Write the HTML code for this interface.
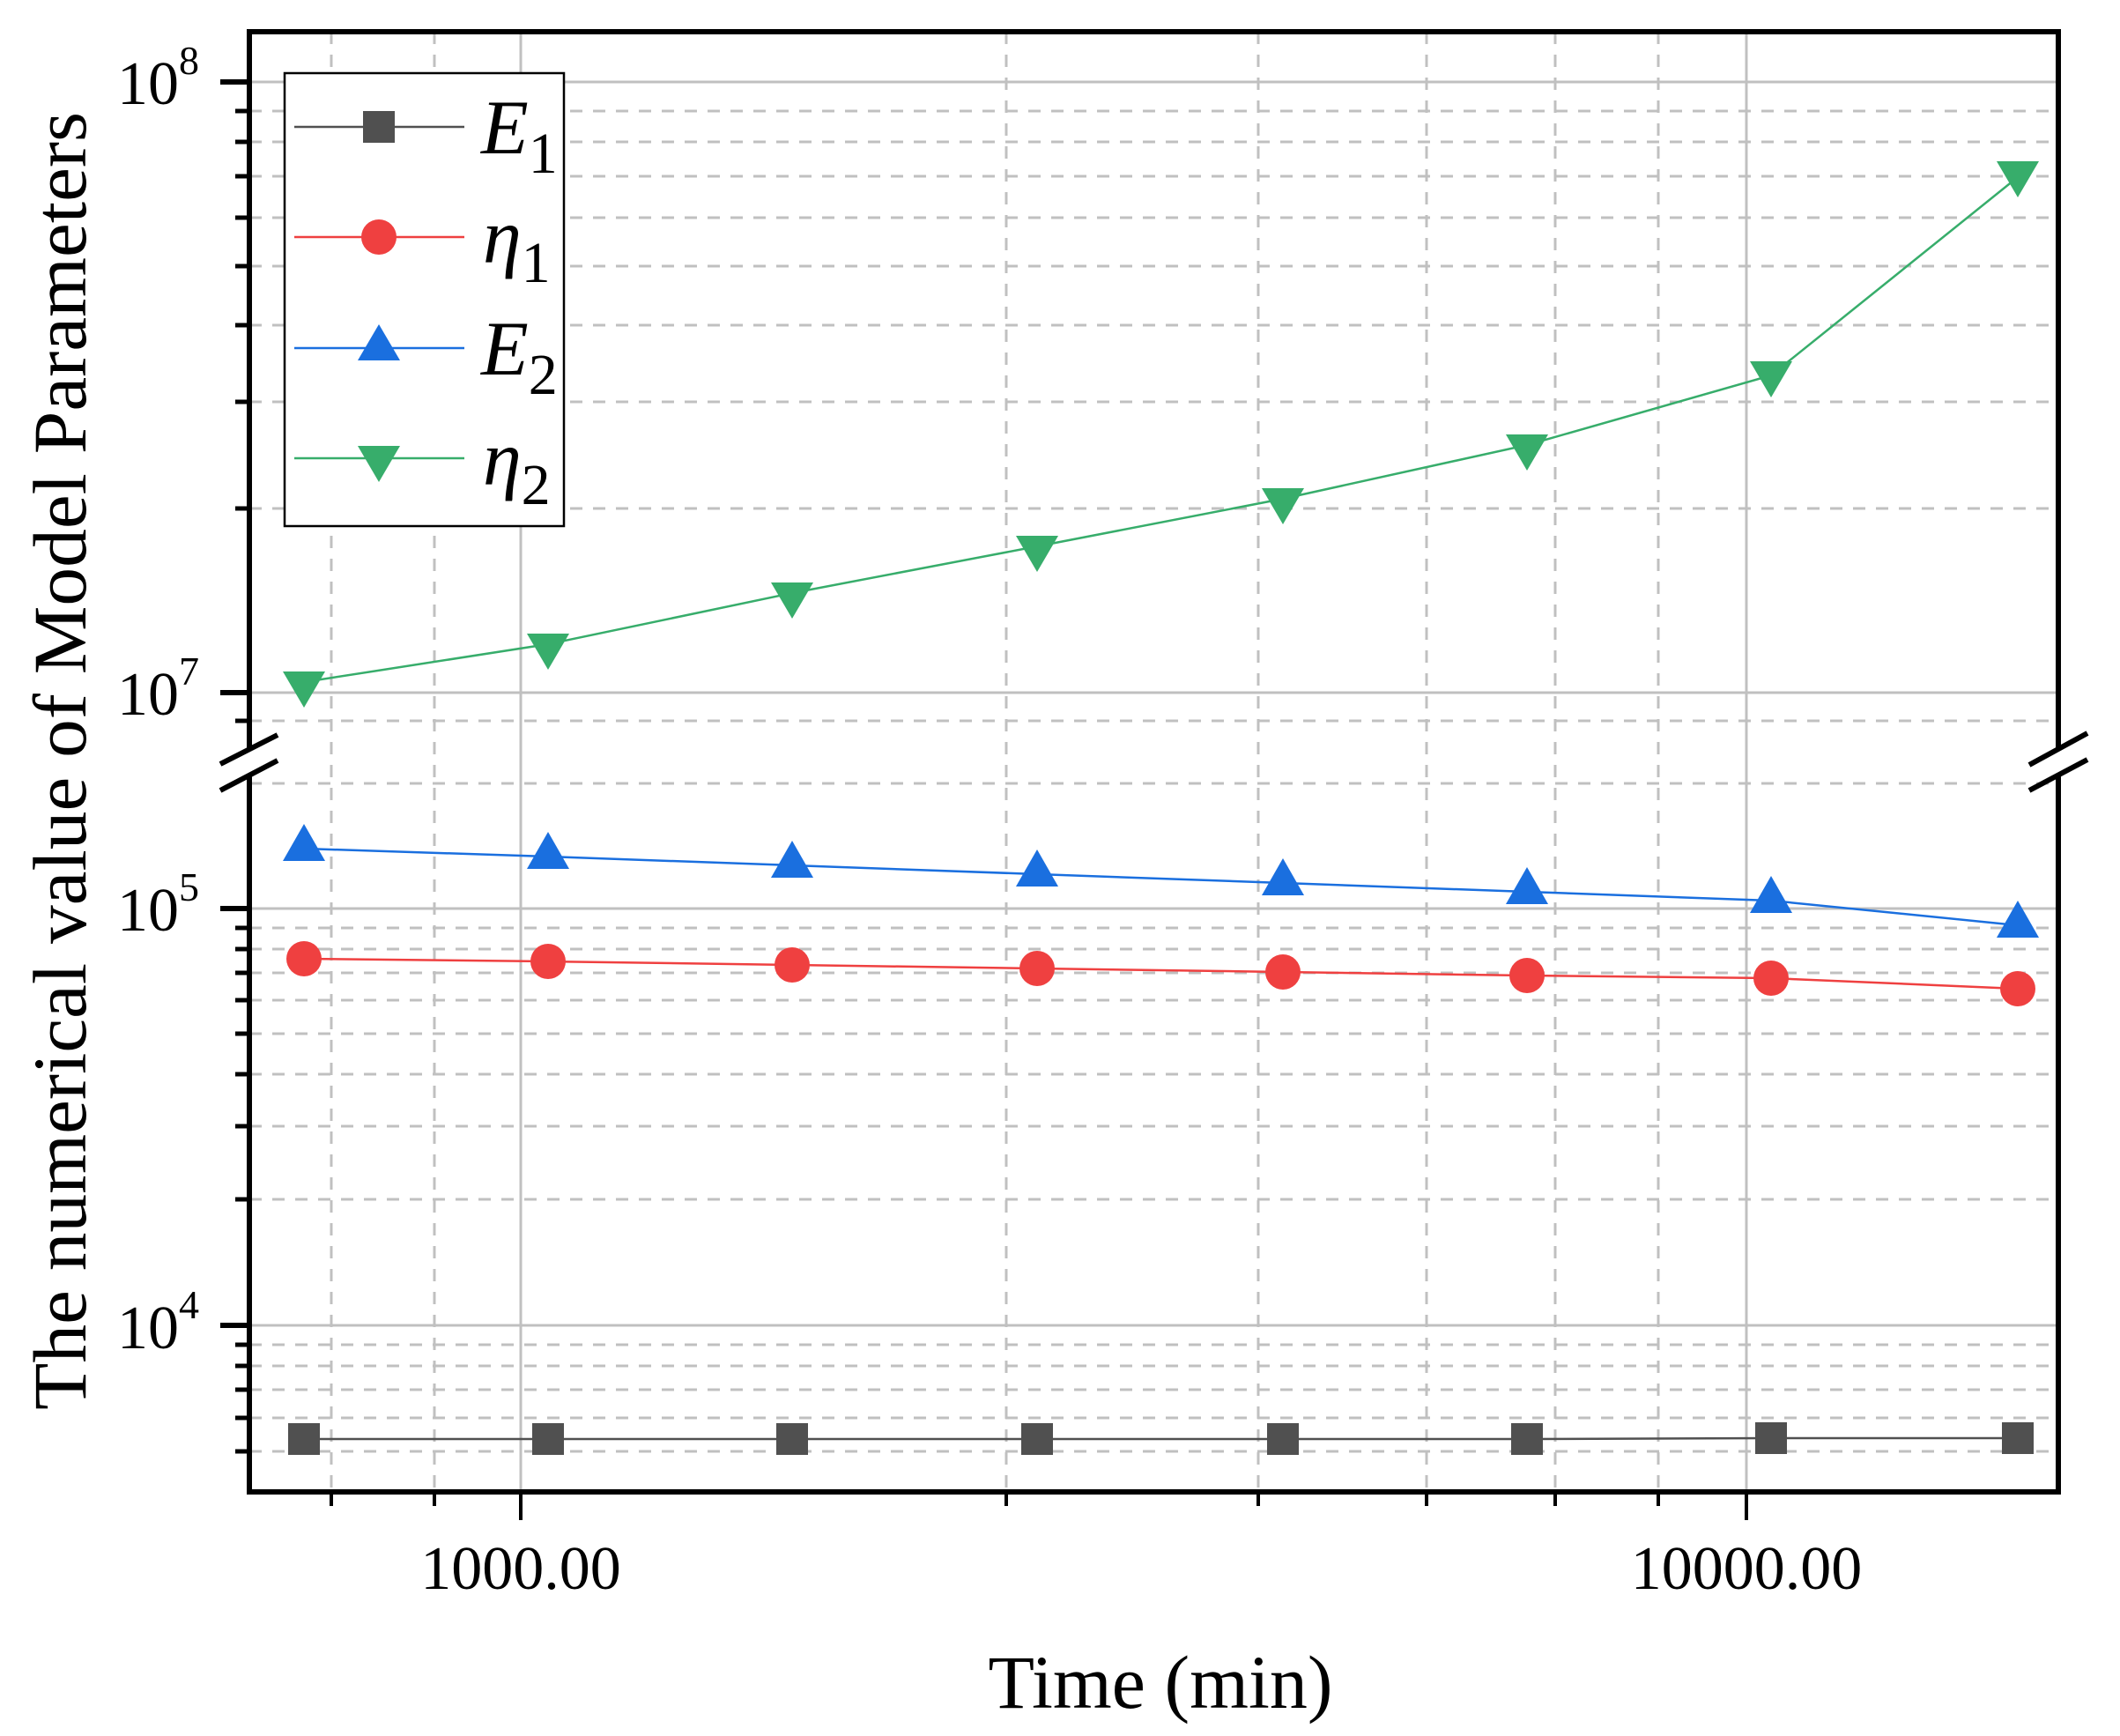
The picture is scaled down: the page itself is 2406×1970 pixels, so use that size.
<!DOCTYPE html>
<html><head><meta charset="utf-8"><style>html,body{margin:0;padding:0;background:#fff}svg{display:block}svg text{font-family:"Liberation Serif","Times New Roman",Times,serif}</style></head>
<body>
<svg width="2406" height="1970" viewBox="0 0 2406 1970" xmlns="http://www.w3.org/2000/svg">
<rect width="2406" height="1970" fill="#fff"/>
<g stroke="#c0c0c0" stroke-width="3" fill="none">
  <line x1="283" y1="93" x2="2336" y2="93"/>
  <line x1="283" y1="786" x2="2336" y2="786"/>
  <line x1="283" y1="1031" x2="2336" y2="1031"/>
  <line x1="283" y1="1504" x2="2336" y2="1504"/>
  <line x1="591" y1="36" x2="591" y2="1693"/>
  <line x1="1982" y1="36" x2="1982" y2="1693"/>
</g>
<g stroke="#c0c0c0" stroke-width="3" fill="none" stroke-dasharray="14,12">
  <line x1="283" y1="126" x2="2336" y2="126"/>
  <line x1="283" y1="161" x2="2336" y2="161"/>
  <line x1="283" y1="200" x2="2336" y2="200"/>
  <line x1="283" y1="247" x2="2336" y2="247"/>
  <line x1="283" y1="302" x2="2336" y2="302"/>
  <line x1="283" y1="369" x2="2336" y2="369"/>
  <line x1="283" y1="456" x2="2336" y2="456"/>
  <line x1="283" y1="577" x2="2336" y2="577"/>
  <line x1="283" y1="818" x2="2336" y2="818"/>
  <line x1="283" y1="889" x2="2336" y2="889"/>
  <line x1="283" y1="1053" x2="2336" y2="1053"/>
  <line x1="283" y1="1077" x2="2336" y2="1077"/>
  <line x1="283" y1="1104" x2="2336" y2="1104"/>
  <line x1="283" y1="1135" x2="2336" y2="1135"/>
  <line x1="283" y1="1173" x2="2336" y2="1173"/>
  <line x1="283" y1="1219" x2="2336" y2="1219"/>
  <line x1="283" y1="1278" x2="2336" y2="1278"/>
  <line x1="283" y1="1361" x2="2336" y2="1361"/>
  <line x1="283" y1="1526" x2="2336" y2="1526"/>
  <line x1="283" y1="1550" x2="2336" y2="1550"/>
  <line x1="283" y1="1577" x2="2336" y2="1577"/>
  <line x1="283" y1="1609" x2="2336" y2="1609"/>
  <line x1="283" y1="1647" x2="2336" y2="1647"/>
  <line x1="376" y1="36" x2="376" y2="1693"/>
  <line x1="493" y1="36" x2="493" y2="1693"/>
  <line x1="1142" y1="36" x2="1142" y2="1693"/>
  <line x1="1428" y1="36" x2="1428" y2="1693"/>
  <line x1="1619" y1="36" x2="1619" y2="1693"/>
  <line x1="1765" y1="36" x2="1765" y2="1693"/>
  <line x1="1882" y1="36" x2="1882" y2="1693"/>
</g>
<polyline fill="none" stroke="#505050" stroke-width="2.5" points="345,1633 622,1633 899,1633 1177,1633 1456,1633 1733,1633 2010,1632 2290,1632"/>
<polyline fill="none" stroke="#ef4040" stroke-width="2.5" points="345,1088 622,1091 899,1095 1177,1099 1456,1103 1733,1107 2010,1110 2290,1122"/>
<polyline fill="none" stroke="#1a6fdf" stroke-width="2.5" points="345,963 622,972 899,982 1177,992 1456,1002 1733,1012 2010,1022 2290,1050"/>
<polyline fill="none" stroke="#37ad6b" stroke-width="2.5" points="345,774 622,731 899,673 1177,620 1456,566 1733,505 2010,426 2290,201"/>
<g fill="#505050">
  <rect x="327" y="1615" width="36" height="36"/><rect x="604" y="1615" width="36" height="36"/><rect x="881" y="1615" width="36" height="36"/><rect x="1159" y="1615" width="36" height="36"/><rect x="1438" y="1615" width="36" height="36"/><rect x="1715" y="1615" width="36" height="36"/><rect x="1992" y="1614" width="36" height="36"/><rect x="2272" y="1614" width="36" height="36"/>
</g>
<g fill="#ef4040">
  <circle cx="345" cy="1088" r="20"/><circle cx="622" cy="1091" r="20"/><circle cx="899" cy="1095" r="20"/><circle cx="1177" cy="1099" r="20"/><circle cx="1456" cy="1103" r="20"/><circle cx="1733" cy="1107" r="20"/><circle cx="2010" cy="1110" r="20"/><circle cx="2290" cy="1122" r="20"/>
</g>
<g fill="#1a6fdf">
  <polygon points="345,935 369,977 321,977"/><polygon points="622,944 646,986 598,986"/><polygon points="899,954 923,996 875,996"/><polygon points="1177,964 1201,1006 1153,1006"/><polygon points="1456,974 1480,1016 1432,1016"/><polygon points="1733,984 1757,1026 1709,1026"/><polygon points="2010,994 2034,1036 1986,1036"/><polygon points="2290,1022 2314,1064 2266,1064"/>
</g>
<g fill="#37ad6b">
  <polygon points="321,762 369,762 345,803"/><polygon points="598,719 646,719 622,760"/><polygon points="875,661 923,661 899,702"/><polygon points="1153,608 1201,608 1177,649"/><polygon points="1432,554 1480,554 1456,595"/><polygon points="1709,493 1757,493 1733,534"/><polygon points="1986,410 2034,410 2010,451"/><polygon points="2266,183 2314,183 2290,224"/>
</g>
<g stroke="#000" stroke-width="6" fill="none">
  <line x1="280" y1="36" x2="2339" y2="36"/>
  <line x1="283" y1="33" x2="283" y2="851"/>
  <line x1="283" y1="879" x2="283" y2="1696"/>
  <line x1="2336" y1="33" x2="2336" y2="851"/>
  <line x1="2336" y1="879" x2="2336" y2="1696"/>
  <line x1="280" y1="1693" x2="2339" y2="1693"/>
  <line x1="250" y1="867" x2="315" y2="834"/>
  <line x1="250" y1="897" x2="315" y2="863"/>
  <line x1="2303" y1="868" x2="2369" y2="832"/>
  <line x1="2303" y1="897" x2="2369" y2="862"/>
  <line x1="250" y1="93" x2="283" y2="93"/>
  <line x1="250" y1="786" x2="283" y2="786"/>
  <line x1="250" y1="1031" x2="283" y2="1031"/>
  <line x1="250" y1="1504" x2="283" y2="1504"/>
</g>
<g stroke="#000" stroke-width="5" fill="none">
  <line x1="267" y1="126" x2="283" y2="126"/><line x1="267" y1="161" x2="283" y2="161"/><line x1="267" y1="200" x2="283" y2="200"/><line x1="267" y1="247" x2="283" y2="247"/><line x1="267" y1="302" x2="283" y2="302"/><line x1="267" y1="369" x2="283" y2="369"/><line x1="267" y1="456" x2="283" y2="456"/><line x1="267" y1="577" x2="283" y2="577"/><line x1="267" y1="818" x2="283" y2="818"/>
  <line x1="267" y1="1053" x2="283" y2="1053"/><line x1="267" y1="1077" x2="283" y2="1077"/><line x1="267" y1="1104" x2="283" y2="1104"/><line x1="267" y1="1135" x2="283" y2="1135"/><line x1="267" y1="1173" x2="283" y2="1173"/><line x1="267" y1="1219" x2="283" y2="1219"/><line x1="267" y1="1278" x2="283" y2="1278"/><line x1="267" y1="1361" x2="283" y2="1361"/>
  <line x1="267" y1="1526" x2="283" y2="1526"/><line x1="267" y1="1550" x2="283" y2="1550"/><line x1="267" y1="1577" x2="283" y2="1577"/><line x1="267" y1="1609" x2="283" y2="1609"/><line x1="267" y1="1647" x2="283" y2="1647"/>
</g>
<g stroke="#000" stroke-width="4" fill="none">
  <line x1="376" y1="1693" x2="376" y2="1709"/><line x1="493" y1="1693" x2="493" y2="1709"/><line x1="1142" y1="1693" x2="1142" y2="1709"/><line x1="1428" y1="1693" x2="1428" y2="1709"/><line x1="1619" y1="1693" x2="1619" y2="1709"/><line x1="1765" y1="1693" x2="1765" y2="1709"/><line x1="1882" y1="1693" x2="1882" y2="1709"/>
  <line x1="591" y1="1693" x2="591" y2="1725"/><line x1="1982" y1="1693" x2="1982" y2="1725"/>
</g>
<g font-size="70" fill="#000" text-anchor="end">
  <text x="226" y="118">10<tspan font-size="46" dy="-34">8</tspan></text>
  <text x="226" y="811">10<tspan font-size="46" dy="-34">7</tspan></text>
  <text x="226" y="1056">10<tspan font-size="46" dy="-34">5</tspan></text>
  <text x="226" y="1530">10<tspan font-size="46" dy="-34">4</tspan></text>
</g>
<g font-size="70" fill="#000" text-anchor="middle">
  <text x="591" y="1803">1000.00</text>
  <text x="1982" y="1803">10000.00</text>
</g>
<text x="1317" y="1938" font-size="86" text-anchor="middle">Time (min)</text>
<text transform="translate(97,1600) rotate(-90)" font-size="86" textLength="1473" lengthAdjust="spacingAndGlyphs">The numerical value of  Model Parameters</text>
<rect x="323" y="83" width="317" height="514" fill="#fff" stroke="#000" stroke-width="2.5"/>
<line x1="334" y1="144" x2="527" y2="144" stroke="#505050" stroke-width="2.5"/>
<rect x="412" y="126" width="36" height="36" fill="#505050"/>
<line x1="334" y1="269" x2="527" y2="269" stroke="#ef4040" stroke-width="2.5"/>
<circle cx="430" cy="269" r="20" fill="#ef4040"/>
<line x1="334" y1="395" x2="527" y2="395" stroke="#1a6fdf" stroke-width="2.5"/>
<polygon points="430,368 454,409 406,409" fill="#1a6fdf"/>
<line x1="334" y1="520" x2="527" y2="520" stroke="#37ad6b" stroke-width="2.5"/>
<polygon points="406,506 454,506 430,547" fill="#37ad6b"/>
<g font-size="88" fill="#000">
  <text x="546" y="174"><tspan font-style="italic">E</tspan><tspan font-size="66" dy="22">1</tspan></text>
  <text x="548" y="298"><tspan font-style="italic">η</tspan><tspan font-size="66" dy="22">1</tspan></text>
  <text x="546" y="425"><tspan font-style="italic">E</tspan><tspan font-size="66" dy="22">2</tspan></text>
  <text x="548" y="550"><tspan font-style="italic">η</tspan><tspan font-size="66" dy="22">2</tspan></text>
</g>
</svg>
</body></html>
